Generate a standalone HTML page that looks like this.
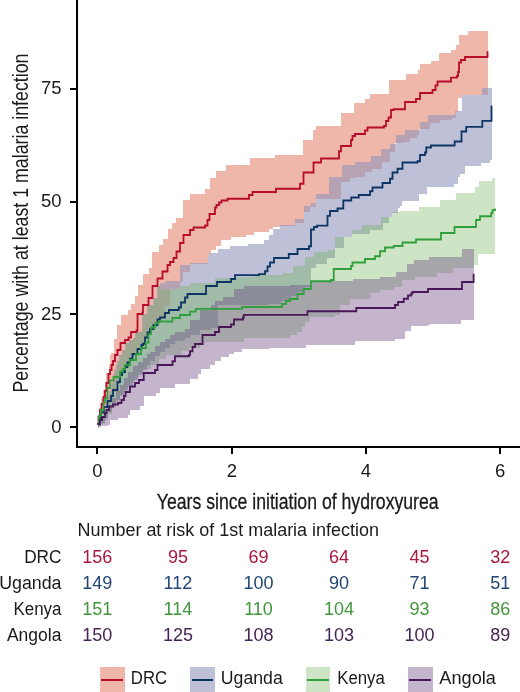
<!DOCTYPE html>
<html><head><meta charset="utf-8"><style>
html,body{margin:0;padding:0;background:#fff;}
body{width:520px;height:692px;overflow:hidden;}
svg{display:block;font-family:"Liberation Sans", sans-serif;will-change:transform;}
</style></head><body>
<svg width="520" height="692" viewBox="0 0 520 692" shape-rendering="crispEdges">
<path d="M97.50,418.00H99.00V408.00H101.00V398.00H103.00V390.00H104.50V382.00H106.25V372.50H108.75V365.00H110.00V355.00H111.25V352.50H113.75V338.75H116.90V325.00H121.25V315.00H128.00V310.00H131.25V304.00H135.00V296.00H137.50V285.00H142.80V274.30H148.90V267.80H152.30V252.10H159.30V244.80H163.20V239.00H167.50V228.75H172.00V223.00H176.25V217.50H182.50V200.00H190.00V194.00H205.00V189.00H210.00V177.50H216.25V171.25H226.25V165.00H250.00V158.00H275.00V155.00H302.50V140.00H312.50V130.00H316.00V126.00H341.00V112.50H353.75V102.50H365.00V98.75H370.00V94.00H388.75V80.00H406.00V73.75H417.50V70.00H420.00V63.75H431.00V61.00H438.75V52.50H451.00V50.00H456.00V45.00H458.75V35.00H467.50V30.50H487.50V30.50H487.50L487.50,94.60H487.50V94.60H462.30V97.70H457.70V112.30H456.00V118.00H451.50V120.00H440.00V122.70H429.60V128.50H419.20V135.40H417.00V138.00H410.00V141.50H403.00V143.00H395.40V152.30H390.00V162.30H381.50V169.00H372.00V172.00H365.00V177.00H356.00V178.00H350.00V182.00H341.00V198.50H316.00V206.60H310.00V211.60H304.00V223.00H295.00V226.00H280.00V227.00H273.00V229.00H269.00V231.70H253.80V234.60H246.00V236.50H230.80V240.40H221.00V246.00H216.25V250.00H211.25V255.00H207.50V264.00H190.00V272.00H182.70V281.50H180.00V289.00H170.00V306.00H165.00V319.00H160.00V321.00H157.50V326.50H153.50V330.50H150.00V334.00H147.50V339.00H145.00V345.25H143.00V346.50H141.50V350.50H137.50V355.50H132.50V360.25H130.00V364.00H127.50V368.50H125.00V373.50H122.00V376.50H120.00V383.50H117.50V391.50H113.00V397.50H111.00V402.50H107.50V408.50H104.00V414.00H101.00V419.50H99.00V427.00H97.50Z" fill="rgb(216,79,48)" fill-opacity="0.412" stroke="none"/>
<path d="M97.50,424.00H99.00V419.50H101.00V414.00H104.00V408.50H105.50V404.00H107.50V397.00H109.00V391.00H110.50V383.00H112.50V374.00H114.00V370.00H115.50V365.00H117.00V361.00H119.00V355.00H121.50V350.00H124.50V343.00H129.00V340.00H132.50V337.50H135.00V332.00H140.50V330.50H141.50V314.00H146.50V312.50H147.00V305.00H152.50V298.00H156.50V286.00H160.00V283.00H165.00V281.00H180.00V265.00H190.00V262.50H207.50V255.00H210.00V252.50H217.50V249.00H230.00V246.00H248.00V244.00H263.50V240.40H269.00V234.60H273.00V229.00H280.00V225.00H295.00V218.75H303.75V206.25H311.25V202.50H316.25V193.75H328.80V176.50H342.30V165.00H355.00V162.00H371.00V156.30H380.80V148.70H390.40V143.80H396.00V135.00H405.00V130.00H420.00V122.30H427.70V114.60H455.40V110.80H462.30V94.60H481.50V87.70H491.50L491.50,160.00H491.50V160.00H490.40V163.00H480.80V165.80H465.40V173.50H459.60V177.30H457.70V184.00H453.80V187.00H427.00V193.70H419.20V201.30H402.00V206.00H400.00V208.00H397.50V212.50H392.00V216.50H389.20V223.30H382.50V230.00H370.40V234.00H351.50V236.70H343.50V247.50H335.40V258.30H326.50V264.00H316.00V268.00H311.00V282.00H310.00V287.00H305.00V291.50H297.00V296.00H291.00V301.00H281.00V304.00H268.00V305.00H240.00V305.00H218.00V328.00H211.00V330.00H200.00V335.00H190.00V338.00H185.00V341.00H175.00V344.00H170.00V348.00H165.00V352.00H160.00V356.00H155.00V361.00H150.00V365.00H147.00V370.00H143.00V375.00H138.00V380.00H133.00V385.00H128.00V390.00H124.00V395.00H120.00V400.00H116.00V405.00H112.00V412.00H108.00V418.00H105.00V423.00H101.00V427.00H97.50Z" fill="rgb(143,145,185)" fill-opacity="0.575" stroke="none"/>
<path d="M97.50,425.00H99.00V419.50H101.00V414.00H104.00V408.50H106.50V404.00H107.50V402.50H108.50V397.00H110.00V391.00H111.50V383.00H113.50V374.00H115.00V370.00H116.50V365.00H118.00V361.00H120.00V355.00H122.50V350.00H125.50V343.00H130.00V340.00H133.50V337.50H136.00V332.00H141.50V330.50H142.50V314.00H147.50V312.50H148.00V305.00H153.50V298.00H157.50V286.00H160.00V289.40H180.00V286.00H190.00V283.00H215.00V278.00H236.00V277.00H253.50V275.00H281.50V272.70H293.00V265.80H304.60V256.50H313.80V252.00H327.70V249.60H335.40V236.70H351.50V230.00H362.30V225.30H381.00V216.50H392.00V212.00H400.00V211.00H419.20V207.00H440.40V200.40H455.80V192.70H475.00V187.00H478.80V181.20H492.30V178.30H495.00L495.00,253.75H495.00V253.75H477.50V265.00H473.75V267.60H452.80V273.00H436.60V277.00H415.00V279.70H401.50V286.50H393.50V290.40H380.00V292.50H370.00V298.75H350.00V305.00H340.00V315.00H335.00V317.00H310.00V322.30H304.60V327.00H301.50V331.50H297.00V334.60H290.00V337.70H244.00V341.50H205.00V344.60H200.00V347.70H189.00V350.80H181.50V355.40H166.00V358.50H158.50V364.60H151.00V369.00H143.00V373.00H139.00V377.00H135.00V383.00H130.00V388.00H126.00V392.00H123.00V396.00H120.00V402.00H116.00V408.00H112.00V414.00H108.00V420.00H105.00V424.00H101.00V427.00H97.50Z" fill="rgb(105,178,77)" fill-opacity="0.333" stroke="none"/>
<path d="M97.50,424.00H101.00V418.00H105.00V412.00H108.00V405.00H112.00V398.00H116.00V391.00H120.00V385.00H124.00V378.00H128.00V372.00H133.00V366.00H138.00V362.00H143.00V358.00H147.00V354.00H150.00V352.00H155.00V346.00H160.00V342.00H165.00V339.00H170.00V335.00H175.00V332.00H185.00V329.00H190.00V320.00H200.00V310.00H211.00V305.00H215.00V301.00H222.70V297.30H234.20V288.70H243.80V285.80H290.00V284.80H310.00V281.25H352.50V278.75H380.00V277.00H396.00V271.50H407.00V263.50H413.70V259.50H428.50V256.80H462.00V248.70H473.75V248.70H474.00L474.00,319.50H473.75V319.50H461.25V323.75H430.00V325.00H427.50V326.25H411.25V331.25H405.00V338.75H395.00V341.25H355.00V345.00H306.25V347.50H270.00V349.20H242.00V352.00H234.20V354.00H228.50V357.00H220.80V360.80H215.00V365.00H210.00V368.75H201.25V373.75H197.50V378.75H190.00V383.75H175.00V387.50H160.00V392.50H156.25V396.25H143.75V406.25H140.00V410.00H130.00V415.00H127.50V417.50H117.50V420.00H110.00V425.00H107.50V426.25H98.75V428.00H97.50Z" fill="rgb(107,69,129)" fill-opacity="0.4" stroke="none"/>
<path d="M97.50,424.00H98.50V417.00H100.00V410.00H101.50V404.00H103.50V397.00H105.00V391.00H106.50V383.00H108.50V374.00H110.00V370.00H111.50V365.00H113.00V361.00H115.00V355.00H117.50V350.00H120.50V343.00H125.00V340.00H128.50V337.50H131.00V332.00H136.50V330.50H137.50V314.00H142.50V312.50H143.00V305.00H148.50V298.00H152.50V286.00H157.50V278.50H162.50V271.50H167.50V265.00H170.00V262.00H173.50V258.00H176.50V251.50H180.00V243.00H183.50V235.00H190.00V230.00H193.50V227.50H205.00V225.50H207.50V220.00H209.50V214.00H215.00V207.50H216.50V205.00H219.00V202.50H221.50V200.50H227.50V198.75H249.00V195.00H252.50V192.00H276.00V188.75H300.00V183.75H303.50V172.50H313.50V162.50H321.00V158.50H339.00V151.25H341.00V146.00H351.00V140.00H352.50V136.00H355.00V134.00H365.00V130.50H367.50V127.50H384.00V126.00H386.00V121.00H388.50V117.50H391.00V110.00H393.50V109.25H405.00V102.00H416.00V99.00H420.00V93.00H432.50V90.00H435.50V85.50H437.50V81.50H451.00V77.70H457.00V76.00H458.00V72.00H459.00V62.50H461.00V60.00H465.00V57.00H487.50V51.25" fill="none" stroke="#b80c2c" stroke-width="1.8" stroke-linejoin="miter" stroke-linecap="butt" shape-rendering="geometricPrecision"/>
<path d="M97.50,424.00H99.00V418.00H101.00V412.50H104.00V407.00H107.50V401.00H111.00V396.00H113.00V390.00H117.50V382.00H120.00V375.00H122.00V372.00H125.00V367.00H127.50V362.50H130.00V358.75H132.50V354.00H137.50V349.00H141.50V345.00H143.00V343.75H145.00V337.50H147.50V332.50H150.00V329.00H153.50V325.00H157.50V319.50H160.00V317.50H165.00V313.00H169.00V310.00H178.75V307.50H181.00V302.50H185.00V297.50H187.50V294.00H206.00V286.00H217.00V282.00H231.00V279.00H235.00V275.20H259.00V274.20H265.00V271.25H267.50V266.50H270.00V262.50H274.00V258.00H288.75V254.00H297.50V249.00H309.00V246.25H311.00V229.50H314.00V227.00H317.00V225.70H327.50V215.80H330.00V211.00H337.50V208.50H343.30V200.50H351.25V197.50H358.75V195.00H370.00V191.25H372.50V187.50H382.50V183.00H390.00V178.75H392.50V172.50H397.50V168.75H402.50V162.50H417.50V161.25H420.00V155.00H425.00V152.50H426.25V147.50H431.00V145.50H454.60V141.50H461.50V131.50H466.20V126.90H482.30V120.80H491.50V105.40" fill="none" stroke="#0c3563" stroke-width="1.8" stroke-linejoin="miter" stroke-linecap="butt" shape-rendering="geometricPrecision"/>
<path d="M97.50,424.00H99.00V416.00H101.00V410.00H103.50V402.50H105.00V398.50H107.50V388.00H110.00V380.50H113.50V377.00H120.00V371.50H123.00V369.00H125.00V365.00H130.00V360.00H136.00V354.00H141.00V348.00H146.00V342.50H148.50V334.00H151.00V327.50H155.00V323.50H158.50V321.50H172.50V318.00H180.00V315.00H190.00V311.70H195.80V308.80H242.00V307.00H282.00V304.00H286.00V301.00H290.00V299.00H297.50V294.00H303.75V289.00H311.00V281.25H331.00V280.00H333.75V269.00H351.00V266.00H352.50V262.50H365.00V259.00H375.00V256.25H380.00V251.25H385.00V247.50H393.75V246.00H402.50V242.50H416.00V239.50H441.00V233.00H454.50V227.00H476.00V220.00H480.00V216.25H491.25V213.00H492.50V210.00H495.00V208.50" fill="none" stroke="#31a03c" stroke-width="1.8" stroke-linejoin="miter" stroke-linecap="butt" shape-rendering="geometricPrecision"/>
<path d="M97.50,424.00H100.00V420.00H102.00V417.00H105.00V413.00H106.50V410.00H109.00V406.50H113.00V404.50H118.00V403.00H121.50V400.00H124.00V396.00H125.50V392.00H130.00V386.50H135.00V383.00H139.00V380.00H143.75V373.00H155.00V370.00H157.50V365.00H172.50V361.25H175.00V356.25H189.00V355.00H190.00V351.25H192.50V347.00H195.00V344.00H202.50V335.00H215.00V332.00H219.00V327.00H231.00V324.50H234.00V319.50H243.00V317.50H243.80V314.80H307.50V311.25H356.25V308.00H395.00V305.00H398.00V302.00H403.75V298.75H408.00V295.50H411.25V293.50H412.50V292.00H428.00V289.00H462.00V282.00H473.60V273.75" fill="none" stroke="#4a1858" stroke-width="1.8" stroke-linejoin="miter" stroke-linecap="butt" shape-rendering="geometricPrecision"/>
<rect x="75.8" y="0" width="2" height="447.6" fill="#000"/>
<rect x="75.8" y="445.6" width="444.2" height="2" fill="#000"/>
<rect x="69.8" y="426.30" width="6" height="2" fill="#000"/>
<rect x="69.8" y="313.45" width="6" height="2" fill="#000"/>
<rect x="69.8" y="200.60" width="6" height="2" fill="#000"/>
<rect x="69.8" y="87.75" width="6" height="2" fill="#000"/>
<rect x="96.30" y="447" width="2" height="6.8" fill="#000"/>
<rect x="230.80" y="447" width="2" height="6.8" fill="#000"/>
<rect x="365.00" y="447" width="2" height="6.8" fill="#000"/>
<rect x="499.20" y="447" width="2" height="6.8" fill="#000"/>
<text x="61.6" y="432.9" font-size="18.5" text-anchor="end" fill="#1a1a1a" >0</text>
<text x="61.6" y="319.8" font-size="18.5" text-anchor="end" fill="#1a1a1a" >25</text>
<text x="61.6" y="207.0" font-size="18.5" text-anchor="end" fill="#1a1a1a" >50</text>
<text x="61.6" y="94.0" font-size="18.5" text-anchor="end" fill="#1a1a1a" >75</text>
<text x="97.3" y="477.2" font-size="18.5" text-anchor="middle" fill="#1a1a1a" >0</text>
<text x="231.8" y="477.2" font-size="18.5" text-anchor="middle" fill="#1a1a1a" >2</text>
<text x="366.0" y="477.2" font-size="18.5" text-anchor="middle" fill="#1a1a1a" >4</text>
<text x="500.2" y="477.2" font-size="18.5" text-anchor="middle" fill="#1a1a1a" >6</text>
<text x="0" y="0" font-size="22.5" fill="#1a1a1a" textLength="339" lengthAdjust="spacingAndGlyphs" transform="translate(28.2,392.5) rotate(-90)">Percentage with at least 1 malaria infection</text>
<text x="156.8" y="508.5" font-size="22.5" text-anchor="start" fill="#1a1a1a" textLength="281.8" lengthAdjust="spacingAndGlyphs" stroke="#1a1a1a" stroke-width="0.3">Years since initiation of hydroxyurea</text>
<text x="77.5" y="535.8" font-size="17.5" text-anchor="start" fill="#1a1a1a" textLength="301.5" lengthAdjust="spacingAndGlyphs" >Number at risk of 1st malaria infection</text>
<text x="61.5" y="562.5" font-size="18" text-anchor="end" fill="#1a1a1a" textLength="37.3" lengthAdjust="spacingAndGlyphs" >DRC</text>
<text x="97.3" y="562.5" font-size="18" text-anchor="middle" fill="#aa193c" >156</text>
<text x="177.9" y="562.5" font-size="18" text-anchor="middle" fill="#aa193c" >95</text>
<text x="258.5" y="562.5" font-size="18" text-anchor="middle" fill="#aa193c" >69</text>
<text x="339.0" y="562.5" font-size="18" text-anchor="middle" fill="#aa193c" >64</text>
<text x="419.6" y="562.5" font-size="18" text-anchor="middle" fill="#aa193c" >45</text>
<text x="500.2" y="562.5" font-size="18" text-anchor="middle" fill="#aa193c" >32</text>
<text x="61.5" y="588.5" font-size="18" text-anchor="end" fill="#1a1a1a" textLength="62.3" lengthAdjust="spacingAndGlyphs" >Uganda</text>
<text x="97.3" y="588.5" font-size="18" text-anchor="middle" fill="#234673" >149</text>
<text x="177.9" y="588.5" font-size="18" text-anchor="middle" fill="#234673" >112</text>
<text x="258.5" y="588.5" font-size="18" text-anchor="middle" fill="#234673" >100</text>
<text x="339.0" y="588.5" font-size="18" text-anchor="middle" fill="#234673" >90</text>
<text x="419.6" y="588.5" font-size="18" text-anchor="middle" fill="#234673" >71</text>
<text x="500.2" y="588.5" font-size="18" text-anchor="middle" fill="#234673" >51</text>
<text x="61.5" y="615.0" font-size="18" text-anchor="end" fill="#1a1a1a" textLength="48.0" lengthAdjust="spacingAndGlyphs" >Kenya</text>
<text x="97.3" y="615.0" font-size="18" text-anchor="middle" fill="#41963c" >151</text>
<text x="177.9" y="615.0" font-size="18" text-anchor="middle" fill="#41963c" >114</text>
<text x="258.5" y="615.0" font-size="18" text-anchor="middle" fill="#41963c" >110</text>
<text x="339.0" y="615.0" font-size="18" text-anchor="middle" fill="#41963c" >104</text>
<text x="419.6" y="615.0" font-size="18" text-anchor="middle" fill="#41963c" >93</text>
<text x="500.2" y="615.0" font-size="18" text-anchor="middle" fill="#41963c" >86</text>
<text x="61.5" y="641.2" font-size="18" text-anchor="end" fill="#1a1a1a" textLength="54.6" lengthAdjust="spacingAndGlyphs" >Angola</text>
<text x="97.3" y="641.2" font-size="18" text-anchor="middle" fill="#462355" >150</text>
<text x="177.9" y="641.2" font-size="18" text-anchor="middle" fill="#462355" >125</text>
<text x="258.5" y="641.2" font-size="18" text-anchor="middle" fill="#462355" >108</text>
<text x="339.0" y="641.2" font-size="18" text-anchor="middle" fill="#462355" >103</text>
<text x="419.6" y="641.2" font-size="18" text-anchor="middle" fill="#462355" >100</text>
<text x="500.2" y="641.2" font-size="18" text-anchor="middle" fill="#462355" >89</text>
<rect x="100.2" y="667.3" width="24.5" height="30" fill="rgb(216,79,48)" fill-opacity="0.412"/>
<rect x="101.4" y="678.6" width="21.8" height="2" fill="#b80c2c"/>
<text x="130.8" y="684.3" font-size="17.5" text-anchor="start" fill="#1a1a1a" textLength="36.3" lengthAdjust="spacingAndGlyphs" >DRC</text>
<rect x="190.3" y="667.3" width="24.5" height="30" fill="rgb(143,145,185)" fill-opacity="0.575"/>
<rect x="191.5" y="678.6" width="21.8" height="2" fill="#0c3563"/>
<text x="220.8" y="684.3" font-size="17.5" text-anchor="start" fill="#1a1a1a" textLength="62.0" lengthAdjust="spacingAndGlyphs" >Uganda</text>
<rect x="305.5" y="667.3" width="24.5" height="30" fill="rgb(105,178,77)" fill-opacity="0.333"/>
<rect x="306.7" y="678.6" width="21.8" height="2" fill="#31a03c"/>
<text x="337.2" y="684.3" font-size="17.5" text-anchor="start" fill="#1a1a1a" textLength="47.6" lengthAdjust="spacingAndGlyphs" >Kenya</text>
<rect x="408.1" y="667.3" width="24.5" height="30" fill="rgb(107,69,129)" fill-opacity="0.4"/>
<rect x="409.3" y="678.6" width="21.8" height="2" fill="#4a1858"/>
<text x="439.3" y="684.3" font-size="17.5" text-anchor="start" fill="#1a1a1a" textLength="56.6" lengthAdjust="spacingAndGlyphs" >Angola</text>
</svg>
</body></html>
